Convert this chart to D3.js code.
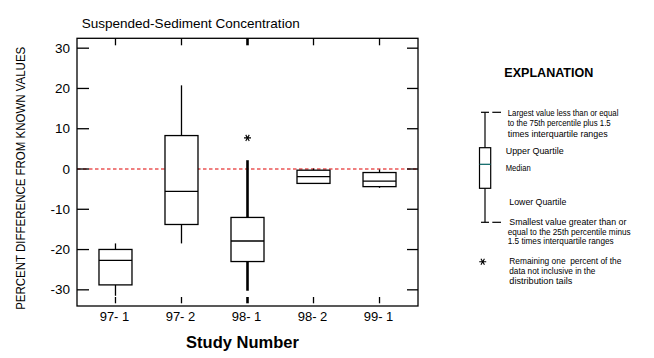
<!DOCTYPE html>
<html>
<head>
<meta charset="utf-8">
<script src="https://cdn.jsdelivr.net/npm/d3@7"></script>
<style>
  html, body { margin: 0; padding: 0; background: #fff; }
  svg { display: block; }
  text { font-family: "Liberation Sans", Arial, sans-serif; fill: #000; }
</style>
</head>
<body>
<svg id="chart" width="654" height="358"></svg>
<script>
// ---- data ----
const categories   = ["97- 1", "97- 2", "98- 1", "98- 2", "99- 1"];
const whiskerLow   = [-31.6, -18.6, -30.35, -3.7, -4.8];
const lowerQuart   = [-28.9, -13.9, -23.1, -3.7, -4.5];
const medians      = [-22.8, -5.7, -18.0, -2.0, -3.15];
const upperQuart   = [-20.1, 8.18, -12.15, -0.42, -1.0];
const whiskerHigh  = [-18.6, 20.65, 2.06, 0.0, -0.25];
const outlierCats  = ["98- 1"];
const outlierVals  = [7.6];
const thickCats    = ["98- 1"];
const yTickValues  = [-30, -20, -10, 0, 10, 20, 30];
const referenceValue = 0;

const titleText  = "Suspended-Sediment Concentration";
const yLabelText = "PERCENT DIFFERENCE FROM KNOWN VALUES";
const xLabelText = "Study Number";
const legendTitle = "EXPLANATION";

// ---- layout ----
const svg = d3.select("#chart");
const L = 77, R = 418, T = 38.3, B = 306;

const x = d3.scalePoint().domain(categories).range([L, R]).padding(0.583);
const y = d3.scaleLinear().domain([-34.14, 32.33]).range([B, T]);

const thick = c => thickCats.includes(c);
const boxW = 33;

// reference dashed line
svg.append("line")
  .attr("x1", L).attr("x2", R)
  .attr("y1", y(referenceValue) + 0.5).attr("y2", y(referenceValue) + 0.5)
  .attr("stroke", "#e00000").attr("stroke-width", 1.2)
  .attr("stroke-dasharray", "3.5,2.5");

// frame
svg.append("rect")
  .attr("x", L).attr("y", T).attr("width", R - L).attr("height", B - T)
  .attr("fill", "none").attr("stroke", "#000").attr("stroke-width", 1.3);

// y ticks (left and right, inward) + labels
const yAxisL = d3.axisRight(y).tickValues(yTickValues).tickSize(12).tickFormat("");
const gL = svg.append("g").attr("transform", `translate(${L},0)`).call(yAxisL);
gL.select(".domain").remove();
gL.selectAll("line").attr("stroke", "#000").attr("stroke-width", 1.3);

const yAxisR = d3.axisLeft(y).tickValues(yTickValues).tickSize(11).tickFormat("");
const gR = svg.append("g").attr("transform", `translate(${R},0)`).call(yAxisR);
gR.select(".domain").remove();
gR.selectAll("line").attr("stroke", "#000").attr("stroke-width", 1.3);

svg.append("g").selectAll("text").data(yTickValues).join("text")
  .attr("x", 70).attr("y", d => y(d) + 5)
  .attr("text-anchor", "end")
  .attr("font-size", 13.5)
  .text(d => d);

// x ticks top (inward) and bottom (inward, detached)
svg.append("g").selectAll("line").data(categories).join("line")
  .attr("x1", d => x(d)).attr("x2", d => x(d))
  .attr("y1", T).attr("y2", T + 7)
  .attr("stroke", "#000").attr("stroke-width", d => thick(d) ? 2.6 : 1.3);
svg.append("g").selectAll("line").data(categories).join("line")
  .attr("x1", d => x(d)).attr("x2", d => x(d))
  .attr("y1", B - 9).attr("y2", B - 2.7)
  .attr("stroke", "#000").attr("stroke-width", d => thick(d) ? 2.6 : 1.3);

svg.append("g").selectAll("text").data(categories).join("text")
  .attr("x", d => x(d) - 1).attr("y", 320.7)
  .attr("text-anchor", "middle")
  .attr("font-size", 13)
  .text(d => d);

// boxes
const boxes = svg.append("g");
categories.forEach((c, i) => {
  const cx = x(c);
  const sw = thick(c) ? 2.6 : 1.3;
  boxes.append("line")
    .attr("x1", cx).attr("x2", cx)
    .attr("y1", y(upperQuart[i])).attr("y2", y(whiskerHigh[i]))
    .attr("stroke", "#000").attr("stroke-width", sw);
  boxes.append("line")
    .attr("x1", cx).attr("x2", cx)
    .attr("y1", y(lowerQuart[i])).attr("y2", y(whiskerLow[i]))
    .attr("stroke", "#000").attr("stroke-width", sw);
  boxes.append("rect")
    .attr("x", cx - boxW / 2).attr("width", boxW)
    .attr("y", y(upperQuart[i])).attr("height", y(lowerQuart[i]) - y(upperQuart[i]))
    .attr("fill", "#fff").attr("stroke", "#000").attr("stroke-width", 1.3);
  boxes.append("line")
    .attr("x1", cx - boxW / 2).attr("x2", cx + boxW / 2)
    .attr("y1", y(medians[i])).attr("y2", y(medians[i]))
    .attr("stroke", "#000").attr("stroke-width", 1.3);
});

// outliers
const star = d3.symbol().type(d3.symbolAsterisk).size(34);
svg.append("g").selectAll("path").data(outlierCats).join("path")
  .attr("d", star)
  .attr("transform", (d, i) => `translate(${x(d)},${y(outlierVals[i])}) rotate(90)`)
  .attr("fill", "none").attr("stroke", "#000").attr("stroke-width", 1.1);

// titles
svg.append("text")
  .attr("x", 81.7).attr("y", 27.7)
  .attr("font-size", 13.5)
  .attr("textLength", 218).attr("lengthAdjust", "spacingAndGlyphs")
  .text(titleText);

svg.append("text")
  .attr("transform", "translate(25,178.3) rotate(-90)")
  .attr("text-anchor", "middle")
  .attr("font-size", 12.5)
  .attr("textLength", 263).attr("lengthAdjust", "spacingAndGlyphs")
  .text(yLabelText);

svg.append("text")
  .attr("x", 242.5).attr("y", 348.3)
  .attr("text-anchor", "middle")
  .attr("font-size", 16.5).attr("font-weight", "bold")
  .text(xLabelText);

// ---- legend ----
const lg = svg.append("g");
lg.append("text")
  .attr("x", 504.3).attr("y", 76.7)
  .attr("font-size", 12).attr("font-weight", "bold")
  .attr("textLength", 89).attr("lengthAdjust", "spacingAndGlyphs")
  .text(legendTitle);

const lx = 485;
const lTop = 112.3, lBoxTop = 147.7, lMed = 164.3, lBoxBot = 188.3, lBot = 222.3;
lg.append("line").attr("x1", lx).attr("x2", lx).attr("y1", lTop).attr("y2", lBot)
  .attr("stroke", "#000").attr("stroke-width", 1.2);
[lTop, lBot].forEach(yy => {
  lg.append("line").attr("x1", lx - 4).attr("x2", lx + 4).attr("y1", yy).attr("y2", yy)
    .attr("stroke", "#000").attr("stroke-width", 1.2);
  lg.append("line").attr("x1", 492.3).attr("x2", 501).attr("y1", yy).attr("y2", yy)
    .attr("stroke", "#000").attr("stroke-width", 1.2);
});
lg.append("rect").attr("x", 479.5).attr("y", lBoxTop).attr("width", 11.2).attr("height", lBoxBot - lBoxTop)
  .attr("fill", "#fff").attr("stroke", "#000").attr("stroke-width", 1.2);
lg.append("line").attr("x1", 479.5).attr("x2", 490.7).attr("y1", lMed).attr("y2", lMed)
  .attr("stroke", "#006060").attr("stroke-width", 1.2);

lg.append("path").attr("d", star)
  .attr("transform", "translate(482.7,261.7) rotate(90)")
  .attr("fill", "none").attr("stroke", "#000").attr("stroke-width", 1.1);

const legendLines = [
  ["Largest value less than or equal", 507.7, 115.7, 110.7],
  ["to the 75th percentile plus 1.5", 507.7, 126.3, 103],
  ["times interquartile ranges", 507.7, 137, 100],
  ["Upper Quartile", 505.7, 154, 58],
  ["Median", 505.7, 170.7, 25],
  ["Lower Quartile", 509.3, 205, 57],
  ["Smallest value greater than or", 509.3, 224.7, 117],
  ["equal to the 25th percentile minus", 507.7, 234.5, 123],
  ["1.5 times interquartile ranges", 507.7, 244.3, 106],
  ["Remaining one  percent of the", 509.3, 263.5, 112],
  ["data not inclusive in the", 509.3, 273.5, 86],
  ["distribution tails", 509.3, 283.5, 63]
];
lg.selectAll("text.leg").data(legendLines).join("text")
  .attr("class", "leg")
  .attr("x", d => d[1]).attr("y", d => d[2])
  .attr("font-size", 9.5)
  .attr("textLength", d => d[3]).attr("lengthAdjust", "spacingAndGlyphs")
  .style("white-space", "pre")
  .text(d => d[0]);
</script>
</body>
</html>
